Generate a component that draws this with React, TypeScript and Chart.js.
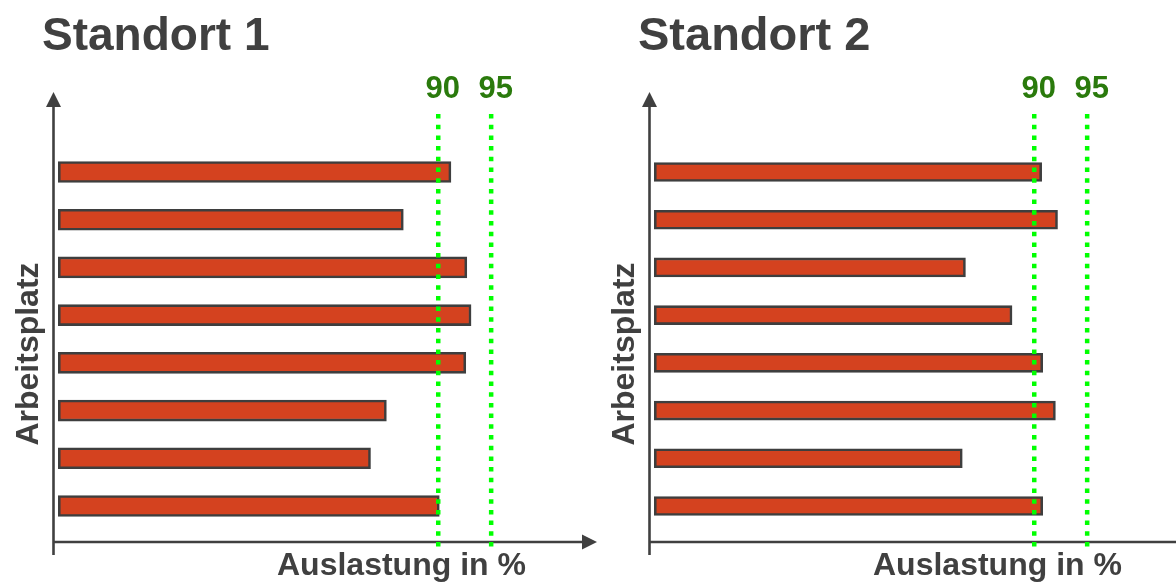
import React, { useEffect, useRef } from "react";
import { Chart, registerables } from "chart.js";

Chart.register(...registerables);

// ---------- data ----------
const workplaces = ["1", "2", "3", "4", "5", "6", "7", "8"];
const site1Load = [91.2, 86.7, 92.7, 93.1, 92.6, 85.1, 83.6, 90.1];
const site2Load = [90.7, 92.2, 83.5, 87.9, 90.8, 92.0, 83.2, 90.8];
const thresholds = [90, 95];
const thresholdLabels = ["90", "95"];
const siteTitles = ["Standort 1", "Standort 2"];
const xAxisTitle = "Auslastung in %";
const yAxisTitle = "Arbeitsplatz";

// ---------- scale settings ----------
const X_MIN = 53.6;
const X_MAX = 105;
const BAR_BASE = 54.1;
const Y_MIN = -0.677;
const Y_MAX = 8.755;

const FONT = '"Liberation Sans", Arial, Helvetica, sans-serif';
const AXIS_COLOR = "#404040";
const BAR_COLOR = "#D4421F";
const BAR_BORDER = "#3E3E3E";
const DOT_COLOR = "#00FF00";
const LABEL_GREEN = "#2A7A0C";

function makeDecor(title: string, titleSize: number) {
  return {
    id: "decor",
    afterDatasetsDraw(chart: any) {
      const { ctx, chartArea: a, scales } = chart;
      const x = scales.x;
      ctx.save();
      // axes
      ctx.strokeStyle = AXIS_COLOR;
      ctx.fillStyle = AXIS_COLOR;
      ctx.lineWidth = 2.6;
      const ax = a.left + 0.5;
      ctx.beginPath();
      ctx.moveTo(ax, a.top + 14);
      ctx.lineTo(ax, a.bottom + 13);
      ctx.stroke();
      ctx.beginPath();
      ctx.moveTo(ax, a.top);
      ctx.lineTo(ax - 7.5, a.top + 15);
      ctx.lineTo(ax + 7.5, a.top + 15);
      ctx.closePath();
      ctx.fill();
      const ay = a.bottom;
      ctx.beginPath();
      ctx.moveTo(ax, ay);
      ctx.lineTo(a.right - 14, ay);
      ctx.stroke();
      ctx.beginPath();
      ctx.moveTo(a.right, ay);
      ctx.lineTo(a.right - 15, ay - 7.5);
      ctx.lineTo(a.right - 15, ay + 7.5);
      ctx.closePath();
      ctx.fill();

      // threshold dotted lines
      ctx.setLineDash([4.5, 6.2]);
      ctx.lineWidth = 4.5;
      ctx.strokeStyle = DOT_COLOR;
      thresholds.forEach((v) => {
        const px = x.getPixelForValue(v);
        ctx.beginPath();
        ctx.moveTo(px, a.top + 22);
        ctx.lineTo(px, a.bottom + 5);
        ctx.stroke();
      });
      ctx.setLineDash([]);

      // threshold labels
      ctx.fillStyle = LABEL_GREEN;
      ctx.font = `bold 31px ${FONT}`;
      ctx.textAlign = "center";
      ctx.textBaseline = "alphabetic";
      thresholds.forEach((v, i) => {
        const px = x.getPixelForValue(v);
        ctx.fillText(thresholdLabels[i], px + 4.5, a.top + 6);
      });

      // titles
      ctx.fillStyle = AXIS_COLOR;
      ctx.textAlign = "left";
      ctx.font = `bold ${titleSize}px ${FONT}`;
      ctx.fillText(title, 42, 50);

      ctx.font = `bold 32px ${FONT}`;
      ctx.fillText(xAxisTitle, a.left + 224, 575);

      ctx.save();
      ctx.translate(38, 354);
      ctx.rotate(-Math.PI / 2);
      ctx.textAlign = "center";
      ctx.fillText(yAxisTitle, 0, 0);
      ctx.restore();

      ctx.restore();
    },
  };
}

function buildChart(
  canvas: HTMLCanvasElement,
  values: number[],
  title: string,
  titleSize: number,
  thickness: number
) {
  return new Chart(canvas, {
    type: "bar",
    data: {
      labels: workplaces,
      datasets: [
        {
          data: values.map((v, i) => ({ x: v, y: i + 1 })) as any,
          base: BAR_BASE,
          barThickness: thickness,
          backgroundColor: BAR_COLOR,
          borderColor: BAR_BORDER,
          borderWidth: 2.6,
          borderSkipped: false,
        } as any,
      ],
    },
    options: {
      indexAxis: "y",
      animation: false,
      responsive: false,
      maintainAspectRatio: false,
      layout: { padding: { left: 53, right: 3, top: 92, bottom: 40 } },
      plugins: {
        legend: { display: false },
        tooltip: { enabled: false },
        title: { display: false },
      },
      scales: {
        x: { type: "linear", display: false, min: X_MIN, max: X_MAX },
        y: {
          type: "linear",
          display: false,
          reverse: true,
          offset: false,
          grid: { offset: false },
          min: Y_MIN,
          max: Y_MAX,
        },
      },
    },
    plugins: [makeDecor(title, titleSize)],
  });
}

export default function App() {
  const ref1 = useRef<HTMLCanvasElement>(null);
  const ref2 = useRef<HTMLCanvasElement>(null);

  useEffect(() => {
    const c1 = buildChart(ref1.current!, site1Load, siteTitles[0], 46, 21);
    const c2 = buildChart(ref2.current!, site2Load, siteTitles[1], 47, 19);
    return () => {
      c1.destroy();
      c2.destroy();
    };
  }, []);

  return (
    <div
      style={{
        position: "fixed",
        left: 0,
        top: 0,
        width: 1176,
        height: 582,
        overflow: "hidden",
        background: "#ffffff",
      }}
    >
      <canvas ref={ref1} width={600} height={582} style={{ position: "absolute", left: 0, top: 0 }} />
      <canvas ref={ref2} width={600} height={582} style={{ position: "absolute", left: 596, top: 0 }} />
    </div>
  );
}
